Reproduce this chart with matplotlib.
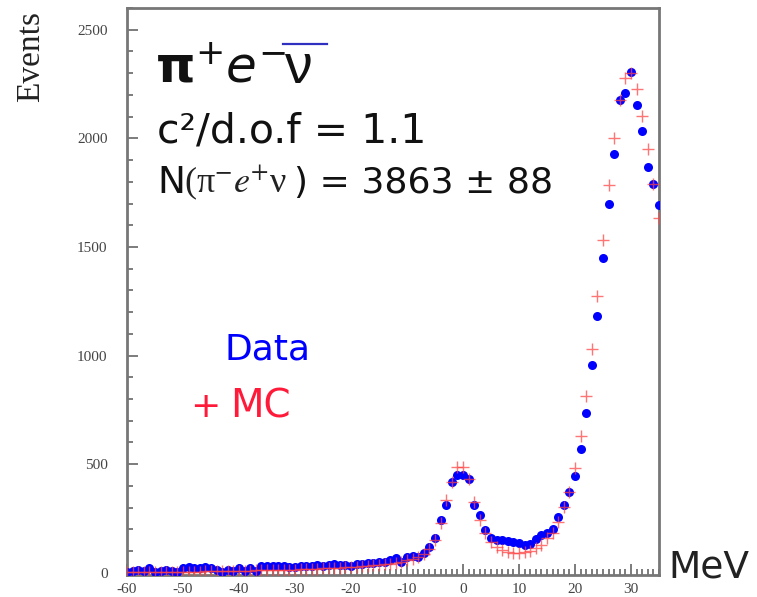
import numpy as np
import matplotlib
matplotlib.use("Agg")
import matplotlib.pyplot as plt
from matplotlib.lines import Line2D
from matplotlib.ticker import MultipleLocator

plt.rcParams["axes.unicode_minus"] = False

# ---- binned spectrum, 1 MeV bins from -60 to 35 ----
energy = np.arange(-60, 36)

data_counts = [
    6, 10, 12, 8, 24, 6, 10, 12, 10, 6,
    24, 26, 24, 22, 26, 24, 12, 6, 12, 8,
    20, 8, 22, 10, 30, 32, 30, 32, 30, 26,
    28, 30, 32, 30, 34, 32, 36, 42, 38, 34,
    32, 40, 42, 44, 46, 48, 52, 60, 68, 50,
    75, 78, 75, 92, 120, 160, 245, 313, 416, 450,
    450, 430, 313, 267, 197, 160, 152, 150, 148, 144,
    137, 130, 135, 158, 172, 185, 200, 255, 312, 374,
    448, 571, 735, 958, 1180, 1447, 1699, 1929, 2178, 2211,
    2304, 2155, 2035, 1868, 1791, 1695,
]

mc_counts = [
    3, 3, 3, 4, 4, 4, 4, 5, 5, 5,
    5, 6, 6, 6, 7, 7, 7, 8, 8, 9,
    9, 10, 10, 11, 11, 12, 12, 13, 14, 14,
    15, 16, 17, 18, 19, 20, 21, 22, 24, 25,
    26, 28, 30, 32, 34, 36, 39, 42, 46, 52,
    60, 65, 72, 85, 110, 150, 229, 336, 416, 485,
    485, 430, 328, 244, 183, 140, 118, 105, 97, 93,
    92, 95, 100, 112, 130, 160, 185, 232, 305, 374,
    482, 628, 815, 1030, 1273, 1530, 1783, 2001, 2178, 2280,
    2300, 2228, 2104, 1952, 1791, 1633,
]

W, H = 757, 597
fig = plt.figure(figsize=(W / 100, H / 100), dpi=100)
ax = fig.add_axes([127 / W, 1 - 575 / H, (659 - 127) / W, (575 - 8) / H])


def px(x, y):
    """figure-fraction position from pixel coordinates"""
    return x / W, 1 - y / H


ax.plot(energy, data_counts, "o", color="#0000ff", markersize=6.5,
        markeredgewidth=0, zorder=3)
ax.plot(energy, mc_counts, "+", color="#ff4545", alpha=0.75, markersize=8,
        markeredgewidth=1.0, zorder=4)

ax.set_xlim(-60, 35)
ax.set_ylim(-10, 2600)

ax.xaxis.set_major_locator(MultipleLocator(10))
ax.xaxis.set_minor_locator(MultipleLocator(1))
ax.yaxis.set_major_locator(MultipleLocator(500))
ax.yaxis.set_minor_locator(MultipleLocator(100))
ax.tick_params(which="both", direction="in", color="#666666", width=1.2,
               top=False, right=False)
ax.tick_params(which="major", length=8)
ax.tick_params(which="minor", length=4)
ax.tick_params(axis="y", pad=14)
ax.tick_params(axis="x", pad=6)
for lab in ax.get_xticklabels() + ax.get_yticklabels():
    lab.set_family("Liberation Serif")
    lab.set_fontsize(11)
    lab.set_color("#444444")

for sp in ax.spines.values():
    sp.set_color("#777777")
    sp.set_linewidth(2)

# ---- labels ----
fig.text(*px(31, 57), "Events", rotation=90, ha="center", va="center",
         family="Liberation Serif", fontsize=24, color="#222222")
fig.text(*px(668, 577), "MeV", ha="left", va="baseline", fontsize=27,
         color="#222222")

# decay channel title, with the antineutrino bar drawn in blue
fig.text(*px(155, 83), r"$\mathbf{\pi}^{+}e^{-}$", ha="left",
         va="baseline", fontsize=36, color="#111111")
fig.text(*px(284, 83), "ν", ha="left", va="baseline", fontsize=40,
         family="Liberation Sans", color="#111111")
fig.add_artist(Line2D([283 / W, 327 / W], [1 - 44 / H, 1 - 44 / H],
                      color="#3030c0", linewidth=1.6))

fig.text(*px(157, 143), "c²/d.o.f = 1.1", ha="left", va="baseline",
         fontsize=29.5, color="#111111")

fig.text(*px(157, 193), "N", ha="left", va="baseline", fontsize=27,
         color="#111111")
fig.text(*px(184, 193), r"(π$^{-}$$\it{e}$$^{+}$ν", ha="left",
         va="baseline", family="Liberation Serif", math_fontfamily="stix",
         fontsize=26, color="#222222")
fig.text(*px(294, 193), ") = 3863 ± 88", ha="left", va="baseline",
         fontsize=26, color="#111111")

fig.text(*px(225, 359), "Data", ha="left", va="baseline", fontsize=26,
         color="#0000ff")
fig.text(*px(190, 417), "+", ha="left", va="baseline", fontsize=26,
         color="#ff1a3a")
fig.text(*px(230, 417), "MC", ha="left", va="baseline", fontsize=28,
         color="#ff1a3a")

fig.savefig("out.png", dpi=100)
